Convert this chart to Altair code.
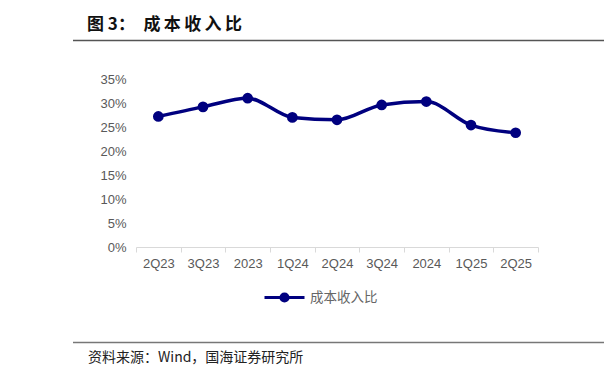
import altair as alt
import pandas as pd

categories = ["2Q23", "3Q23", "2023", "1Q24", "2Q24", "3Q24", "2024", "1Q25", "2Q25"]
values = [0.272, 0.292, 0.310, 0.270, 0.265, 0.296, 0.303, 0.254, 0.238]
series_name = "成本收入比"
y_ticks = [0, 0.05, 0.10, 0.15, 0.20, 0.25, 0.30, 0.35]
title_text = "图 3：\u2002成\u2009本\u2009收\u2009入\u2009比"
source_text = "资料来源：Wind，国海证券研究所"

NAVY = "#00007F"
GRAY = "#595959"
CJK = "Noto Sans CJK SC"
LAT = "Liberation Sans"

df = pd.DataFrame({"period": categories, "ratio": values, "series": series_name})

x_enc = alt.X(
    "period:N", sort=categories, bandPosition=0.5,
    scale=alt.Scale(type="band", paddingInner=0, paddingOuter=0),
    axis=alt.Axis(title=None, labelAngle=0, labelFont=LAT, labelFontSize=13,
                  labelColor=GRAY, domainColor="#D9D9D9", tickColor="#D9D9D9",
                  tickSize=5, tickBand="extent", labelPadding=5, grid=False),
)
y_enc = alt.Y(
    "ratio:Q",
    scale=alt.Scale(domain=[0, 0.35], nice=False),
    axis=alt.Axis(title=None, values=y_ticks, format=".0%", labelFont=LAT,
                  labelFontSize=13, labelColor=GRAY, domain=False, ticks=False,
                  grid=False, labelPadding=10),
)
color_enc = alt.Color(
    "series:N",
    scale=alt.Scale(range=[NAVY]),
    legend=alt.Legend(
        title=None, orient="none", legendX=127, legendY=197,
        symbolType="M-1,0H1M-0.18,0A0.18,0.18 0 1,0 0.18,0A0.18,0.18 0 1,0 -0.18,0",
        symbolSize=1600, symbolStrokeWidth=3, symbolStrokeColor=NAVY,
        symbolFillColor=NAVY, labelFont=CJK, labelFontSize=13.5, labelColor="#666666",
        labelOffset=4,
    ),
)

base = alt.Chart(df).encode(x=x_enc, y=y_enc)
line = base.mark_line(interpolate="monotone", strokeWidth=3.5, color=NAVY).encode(color=color_enc)
points = base.mark_point(filled=True, size=115, opacity=1, color=NAVY)

title_df = pd.DataFrame({"t": [title_text]})
title = alt.Chart(title_df).mark_text(
    align="left", baseline="middle", font=CJK, fontSize=17, fontWeight="bold", color="#111"
).encode(text="t:N", x=alt.value(-49), y=alt.value(-54))

source_df = pd.DataFrame({"t": [source_text]})
source = alt.Chart(source_df).mark_text(
    align="left", baseline="middle", font=CJK, fontSize=14, color="#222"
).encode(text="t:N", x=alt.value(-48), y=alt.value(279))

top_rule = alt.Chart(title_df).mark_rule(color="#555", strokeWidth=1.5).encode(
    x=alt.value(-63), x2=alt.value(476), y=alt.value(-38.6))
bottom_rule = alt.Chart(source_df).mark_rule(color="#777", strokeWidth=1.5).encode(
    x=alt.value(-63), x2=alt.value(476), y=alt.value(263.4))

chart = alt.layer(line, points, title, source, top_rule, bottom_rule).properties(
    width=402, height=168,
    autosize=alt.AutoSizeParams(type="none"),
    padding={"left": 128, "top": 71, "right": 66, "bottom": 127},
).configure_view(stroke=None)

chart.save("out.html", embed_options={"renderer": "svg", "actions": False})
